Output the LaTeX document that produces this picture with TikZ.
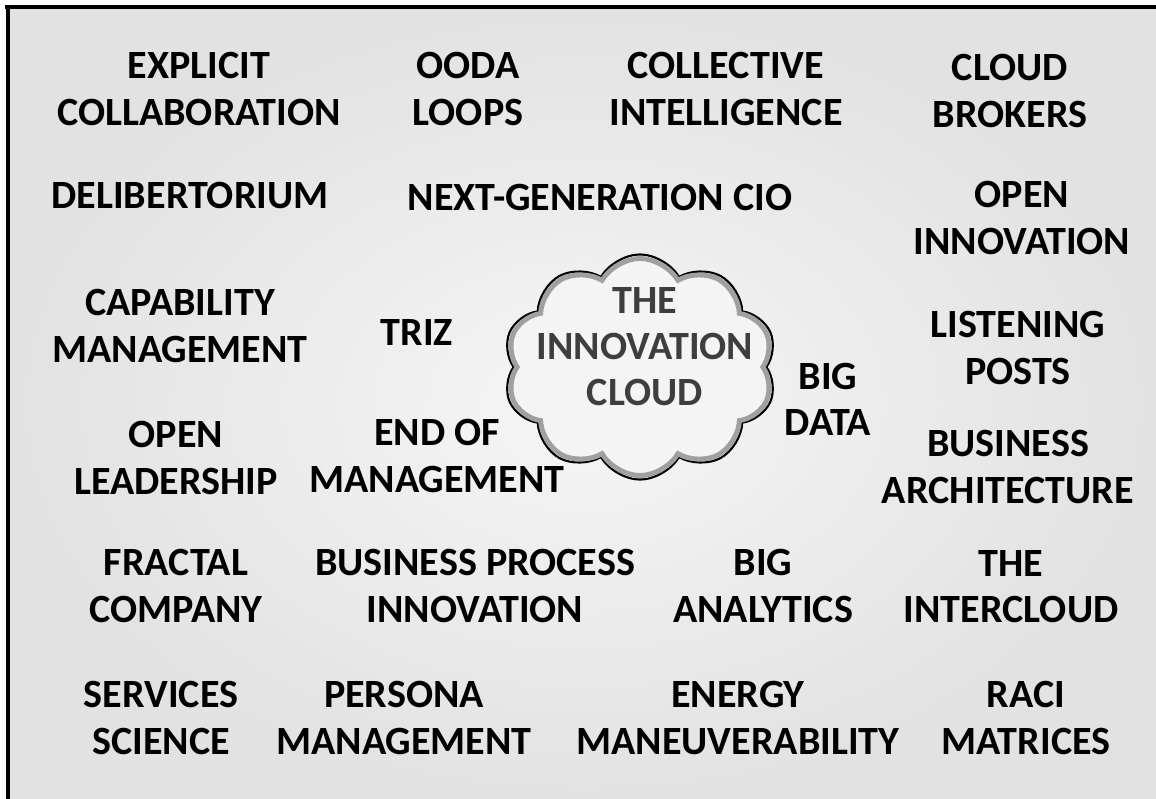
\documentclass[tikz,border=0pt]{standalone}
\usepackage{fontspec}
\setmainfont{Carlito}
\usetikzlibrary{shapes.symbols}

\definecolor{bgcenter}{RGB}{246,246,246}
\definecolor{bgedge}{RGB}{226,226,226}
\definecolor{cloudfill}{RGB}{244,244,244}
\definecolor{cloudrim}{RGB}{160,160,160}
\definecolor{cloudink}{RGB}{62,62,62}

\tikzset{
  buzz/.style={align=center, inner sep=0pt, text=black,
    font=\fontsize{11.4}{13.1}\selectfont\bfseries},
  puffy/.style={cloud, cloud puffs=10, cloud puff arc=120, cloud ignores aspect}
}

\begin{document}
\begin{tikzpicture}[x=0.01cm, y=-0.01cm]
  \useasboundingbox (0,0) rectangle (1156,799);

  % Backdrop and frame
  \shade[inner color=bgcenter, outer color=bgedge] (10,9) rectangle (1156,799);
  \fill[black] (5,5) rectangle (1156,9);
  \fill[black] (6,5) rectangle (10,799);

  % The cloud in the middle
  \node[puffy, draw=black, fill=cloudfill, line width=0.6pt,
        minimum width=2.74cm, minimum height=2.25cm] (cloud) at (640,367) {};
  \node[puffy, draw=cloudrim, line width=1.4pt,
        minimum width=2.66cm, minimum height=2.17cm] (cloudband) at (640,367) {};
  \node[buzz, text=cloudink] (cloudlabel) at (645,347) {THE\\INNOVATION\\CLOUD};

  % Row 1
  \node[buzz] (explicit) at (199,89) {EXPLICIT\\COLLABORATION};
  \node[buzz] (ooda) at (468,89) {OODA\\LOOPS};
  \node[buzz] (collective) at (726,89) {COLLECTIVE\\INTELLIGENCE};
  \node[buzz] (brokers) at (1010,91) {CLOUD\\BROKERS};

  % Row 2
  \node[buzz] (delib) at (190,195) {DELIBERTORIUM};
  \node[buzz] (nextcio) at (600,197) {NEXT-GENERATION CIO};
  \node[buzz] (openinno) at (1022,218) {OPEN\\INNOVATION};

  % Row 3
  \node[buzz] (capability) at (180,326) {CAPABILITY\\MANAGEMENT};
  \node[buzz] (triz) at (417,332) {TRIZ};
  \node[buzz] (listening) at (1018,348) {LISTENING\\POSTS};
  \node[buzz] (bigdata) at (828,399) {BIG\\DATA};

  % Row 4
  \node[buzz] (openlead) at (176,458) {OPEN\\LEADERSHIP};
  \node[buzz] (endmgmt) at (437,456) {END OF\\MANAGEMENT};
  \node[buzz] (busarch) at (1008,467) {BUSINESS\\ARCHITECTURE};

  % Row 5
  \node[buzz] (fractal) at (176,586) {FRACTAL\\COMPANY};
  \node[buzz] (bpi) at (475,586) {BUSINESS PROCESS\\INNOVATION};
  \node[buzz] (biganalytics) at (763,586) {BIG\\ANALYTICS};
  \node[buzz] (intercloud) at (1011,587) {THE\\INTERCLOUD};

  % Row 6
  \node[buzz] (services) at (161,718) {SERVICES\\SCIENCE};
  \node[buzz] (persona) at (404,718) {PERSONA\\MANAGEMENT};
  \node[buzz] (energy) at (738,718) {ENERGY\\MANEUVERABILITY};
  \node[buzz] (raci) at (1026,718) {RACI\\MATRICES};
\end{tikzpicture}
\end{document}
